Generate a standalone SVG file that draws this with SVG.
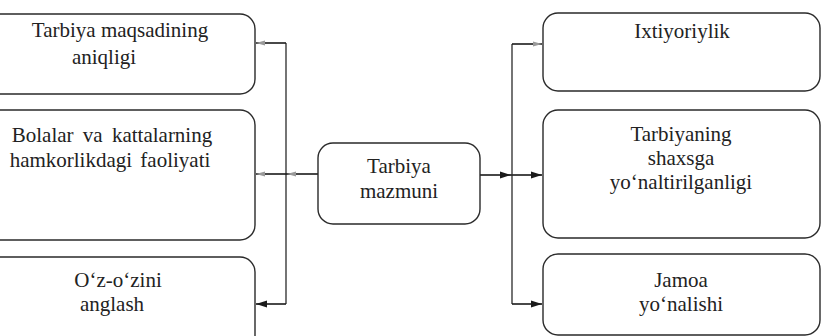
<svg xmlns="http://www.w3.org/2000/svg" width="821" height="336" viewBox="0 0 821 336">
<defs>
<style>
.box{fill:none;stroke:#2a2a2a;stroke-width:1.4}
.t{font-family:'Liberation Serif','Times New Roman',Tinos,'DejaVu Serif',serif;font-size:21px;fill:#222;text-anchor:middle}
.ln{fill:none;stroke:#1a1a1a;stroke-width:1.6}
.lt{fill:none;stroke:#2a2a2a;stroke-width:1.3}
</style>
<marker id="ah" markerWidth="12" markerHeight="8" refX="11" refY="4" orient="auto" markerUnits="userSpaceOnUse">
<path d="M0,0.5 L11,4 L0,7.5 Z" fill="#1a1a1a"/>
</marker>
<marker id="af" markerWidth="10" markerHeight="7" refX="9" refY="3.5" orient="auto" markerUnits="userSpaceOnUse">
<path d="M0,1 L9,3.5 L0,6 Z" fill="#9a9a9a"/>
</marker>
</defs>
<rect width="821" height="336" fill="#fff"/>
<g id="connectors">
<line class="lt" x1="286" y1="43" x2="286" y2="304"/>
<line class="ln" x1="286" y1="43" x2="256" y2="43" marker-end="url(#af)"/>
<line class="ln" x1="318" y1="174" x2="287" y2="174" marker-end="url(#af)"/>
<line class="ln" x1="287" y1="174" x2="256" y2="174" marker-end="url(#af)"/>
<line class="ln" x1="286" y1="304" x2="256" y2="304" marker-end="url(#ah)"/>
<line class="ln" x1="480" y1="175" x2="511" y2="175" marker-end="url(#ah)"/>
<line class="ln" x1="511" y1="175" x2="542" y2="175" marker-end="url(#ah)"/>
<line class="lt" x1="512" y1="44" x2="512" y2="304"/>
<line class="ln" x1="512" y1="44" x2="542" y2="44" marker-end="url(#af)"/>
<line class="ln" x1="512" y1="304" x2="542" y2="304" marker-end="url(#ah)"/>
</g>
<g id="node-l1">
<rect class="box" x="-30" y="14" width="285" height="80" rx="15"/>
<text class="t" x="120" y="37">Tarbiya maqsadining</text>
<text class="t" x="104" y="64">aniqligi</text>
</g>
<g id="node-l2">
<rect class="box" x="-30" y="110" width="285" height="130" rx="15"/>
<text class="t" x="112" y="142" word-spacing="4">Bolalar va kattalarning</text>
<text class="t" x="110" y="167" word-spacing="3">hamkorlikdagi faoliyati</text>
</g>
<g id="node-l3">
<rect class="box" x="-30" y="257" width="285" height="110" rx="15"/>
<text class="t" x="118" y="287">O‘z-o‘zini</text>
<text class="t" x="112" y="311">anglash</text>
</g>
<g id="node-center">
<rect class="box" x="318" y="143" width="162" height="81" rx="15"/>
<text class="t" x="399" y="173">Tarbiya</text>
<text class="t" x="399" y="198">mazmuni</text>
</g>
<g id="node-r1">
<rect class="box" x="543" y="13" width="277" height="78" rx="15"/>
<text class="t" x="682" y="38">Ixtiyoriylik</text>
</g>
<g id="node-r2">
<rect class="box" x="543" y="110" width="277" height="128" rx="15"/>
<text class="t" x="681" y="141">Tarbiyaning</text>
<text class="t" x="681" y="165">shaxsga</text>
<text class="t" x="681" y="189">yo‘naltirilganligi</text>
</g>
<g id="node-r3">
<rect class="box" x="543" y="254" width="277" height="81" rx="15"/>
<text class="t" x="681" y="287">Jamoa</text>
<text class="t" x="681" y="311">yo‘nalishi</text>
</g>
</svg>
